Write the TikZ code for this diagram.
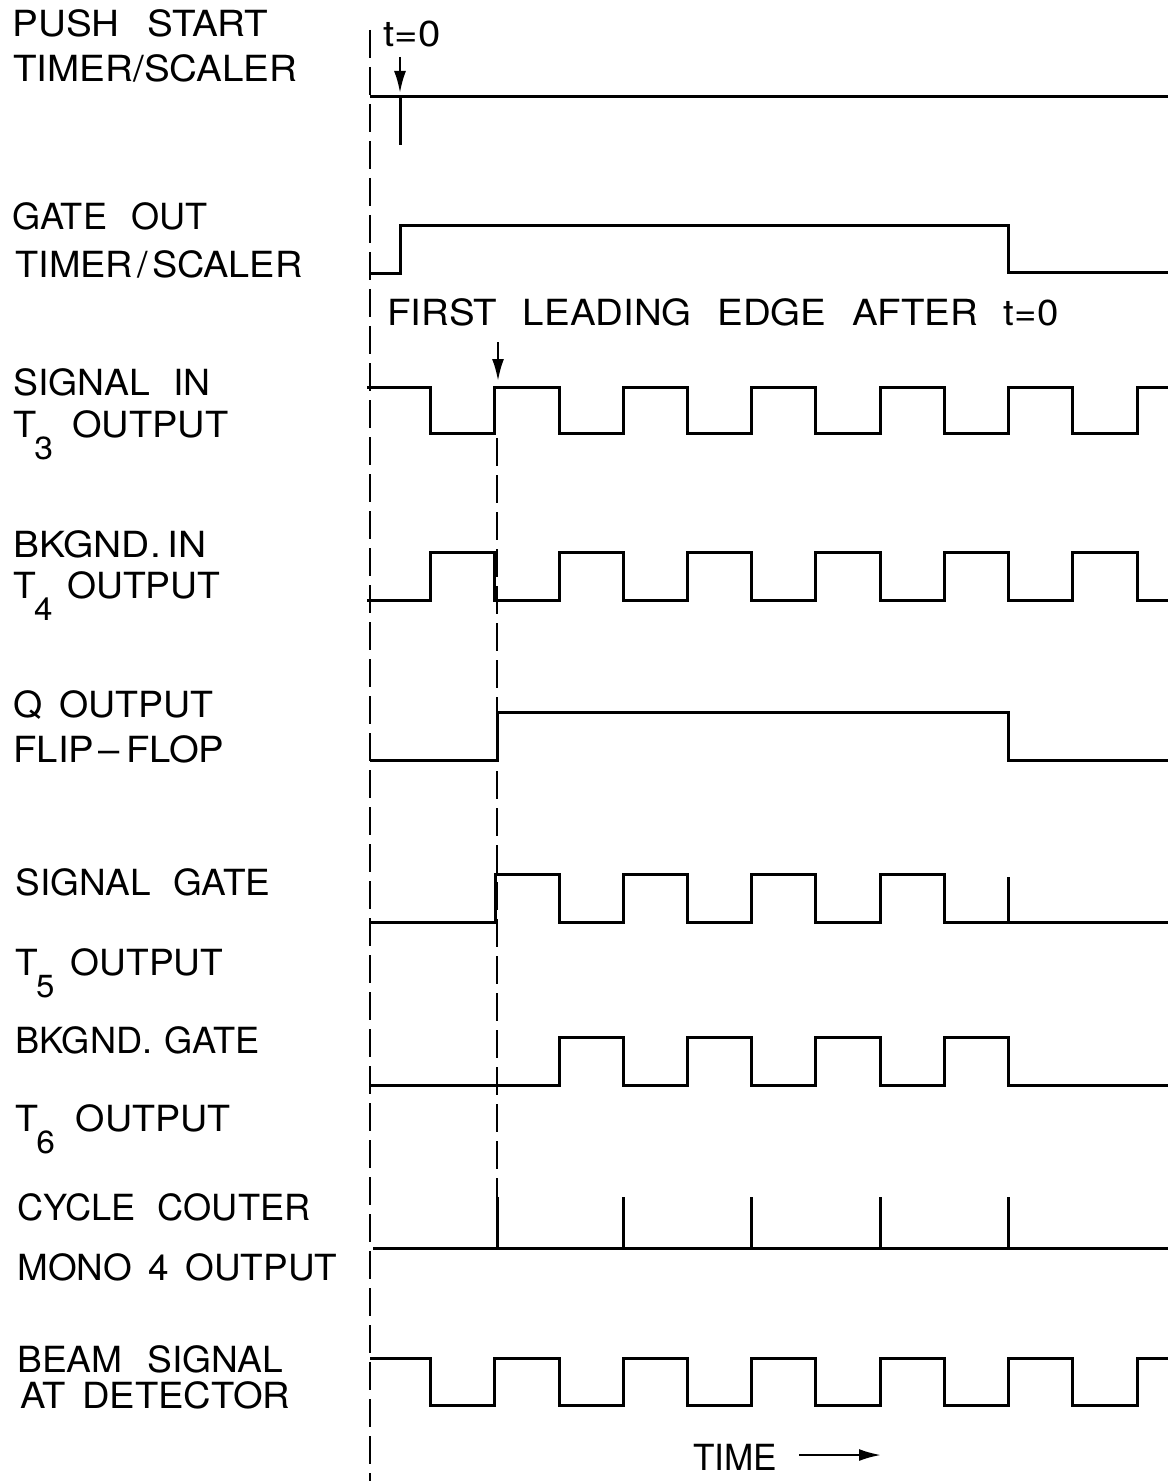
\documentclass[tikz,border=0pt]{standalone}
\usepackage{fontspec}
\setmainfont{TeX Gyre Heros}
\usetikzlibrary{arrows.meta}
\newcommand{\gp}[1]{\hspace{#1pt}}
\newcommand{\subn}[1]{\kern-1pt\raisebox{-11pt}{\fontsize{16}{16}\selectfont #1}}
\newcommand{\fitw}[2]{\resizebox{#1pt}{\height}{#2}}
\begin{document}
\begin{tikzpicture}[x=0.5pt,y=-0.5pt,
  lab/.style={anchor=base west, inner sep=0pt, font=\fontsize{18}{20}\selectfont},
  wave/.style={line width=1.5pt, line join=miter},
  dline/.style={line width=1.3pt, dash pattern=on 14pt off 4.5pt},
  arr/.style={line width=1.2pt, -{Latex[length=11pt,width=6pt]}}]
\useasboundingbox (0,0) rectangle (1175,1481);

% labels
\node[lab] (l1a) at (12,37)   {\fitw{128}{PUSH\gp{13}START}};
\node[lab] (l1b) at (13,82)   {\fitw{142}{TIMER/SCALER}};
\node[lab] (l2a) at (12,230)  {\fitw{97.5}{GATE\gp{12}OUT}};
\node[lab] (l2b) at (15,278)  {\fitw{143.5}{TIMER\gp{2}/\gp{2}SCALER}};
\node[lab] (l3a) at (13,395)  {\fitw{98.5}{SIGNAL\gp{11}IN}};
\node[lab] (l3b) at (13,437)  {\fitw{107.5}{T\subn{3}\gp{9}OUTPUT}};
\node[lab] (l4a) at (13,557)  {\fitw{96.5}{BKGND.\gp{3}IN}};
\node[lab] (l4b) at (13,598)  {\fitw{103.5}{T\subn{4}\gp{7}OUTPUT}};
\node[lab] (l5a) at (13,717)  {\fitw{100}{Q\gp{8}OUTPUT}};
\node[lab] (l5b) at (13,762)  {\fitw{105.5}{FLIP\gp{2}--\gp{3}FLOP}};
\node[lab] (l6a) at (15,895)  {\fitw{127.5}{SIGNAL\gp{11}GATE}};
\node[lab] (l6b) at (15,975)  {\fitw{104}{T\subn{5}\gp{8}OUTPUT}};
\node[lab] (l7a) at (15,1053) {\fitw{122}{BKGND.\gp{6}GATE}};
\node[lab] (l7b) at (15,1131) {\fitw{107.5}{T\subn{6}\gp{10}OUTPUT}};
\node[lab] (l8a) at (17,1220) {\fitw{146.5}{CYCLE\gp{11}COUTER}};
\node[lab] (l8b) at (17,1280) {\fitw{160}{MONO\gp{8}4\gp{8}OUTPUT}};
\node[lab] (l9a) at (17,1372) {\fitw{133}{BEAM\gp{12}SIGNAL}};
\node[lab] (l9b) at (20,1408) {\fitw{135}{AT\gp{8}DETECTOR}};
\node[lab] (tzero) at (383,47) {\fitw{28.5}{t=0}};
\node[lab] (first) at (387,325) {\fitw{335.5}{FIRST\gp{12}LEADING\gp{12}EDGE\gp{12}AFTER\gp{12}t=0}};
\node[lab] (time) at (693,1470) {\fitw{42}{TIME}};

% dashed reference lines
\coordinate (dA1) at (370,30);   \coordinate (dA2) at (370,1481);
\coordinate (dB1) at (497,438);  \coordinate (dB2) at (497,1197);
\draw[dline] (dA1) -- (dA2);
\draw[dline] (dB1) -- (dB2);

% arrows
\coordinate (a1s) at (400,57);  \coordinate (a1e) at (400,93);
\coordinate (a2s) at (498,342); \coordinate (a2e) at (498,381);
\coordinate (a3s) at (799,1455);\coordinate (a3e) at (881,1455);
\draw[arr] (a1s) -- (a1e);
\draw[arr] (a2s) -- (a2e);
\draw[arr] (a3s) -- (a3e);

% push start
\draw[wave] (370,97) -- (1168,97);
\draw[wave] (400,97) -- (400,145);

% gate out
\draw[wave] (370,274) -- (400,274) -- (400,226) -- (1008,226) -- (1008,273) -- (1168,273);

% T3 output
\draw[wave] (367,387) -- (430,387) -- (430,433) -- (494,433) -- (494,387) -- (559,387) -- (559,433) -- (623,433) -- (623,387) -- (687,387) -- (687,433) -- (751,433) -- (751,387) -- (815,387) -- (815,433) -- (880,433) -- (880,387) -- (944,387) -- (944,433) -- (1008,433) -- (1008,387) -- (1072,387) -- (1072,433) -- (1137,433) -- (1137,387) -- (1168,387);

% T4 output
\draw[wave] (367,600) -- (430,600) -- (430,552) -- (494,552) -- (494,600) -- (559,600) -- (559,552) -- (623,552) -- (623,600) -- (687,600) -- (687,552) -- (751,552) -- (751,600) -- (815,600) -- (815,552) -- (880,552) -- (880,600) -- (944,600) -- (944,552) -- (1008,552) -- (1008,600) -- (1072,600) -- (1072,552) -- (1137,552) -- (1137,600) -- (1168,600);

% Q output
\draw[wave] (370,760) -- (497,760) -- (497,712) -- (1008,712) -- (1008,760) -- (1168,760);

% T5 output (signal gate)
\draw[wave] (370,922) -- (495,922) -- (495,874) -- (559,874) -- (559,922) -- (623,922) -- (623,874) -- (687,874) -- (687,922) -- (751,922) -- (751,874) -- (815,874) -- (815,922) -- (880,922) -- (880,874) -- (944,874) -- (944,922) -- (1168,922);
\draw[wave] (1008,922) -- (1008,877);

% T6 output (bkgnd gate)
\draw[wave] (370,1085) -- (559,1085) -- (559,1037) -- (623,1037) -- (623,1085) -- (687,1085) -- (687,1037) -- (751,1037) -- (751,1085) -- (815,1085) -- (815,1037) -- (880,1037) -- (880,1085) -- (944,1085) -- (944,1037) -- (1008,1037) -- (1008,1085) -- (1168,1085);

% cycle counter
\draw[wave] (373,1248) -- (1168,1248);
\foreach \xx in {497,623,751,880,1008} \draw[wave] (\xx,1248) -- (\xx,1197);

% beam signal
\draw[wave] (370,1358) -- (430,1358) -- (430,1405) -- (494,1405) -- (494,1358) -- (559,1358) -- (559,1405) -- (623,1405) -- (623,1358) -- (687,1358) -- (687,1405) -- (751,1405) -- (751,1358) -- (815,1358) -- (815,1405) -- (880,1405) -- (880,1358) -- (944,1358) -- (944,1405) -- (1008,1405) -- (1008,1358) -- (1072,1358) -- (1072,1405) -- (1137,1405) -- (1137,1358) -- (1168,1358);
\end{tikzpicture}
\end{document}
